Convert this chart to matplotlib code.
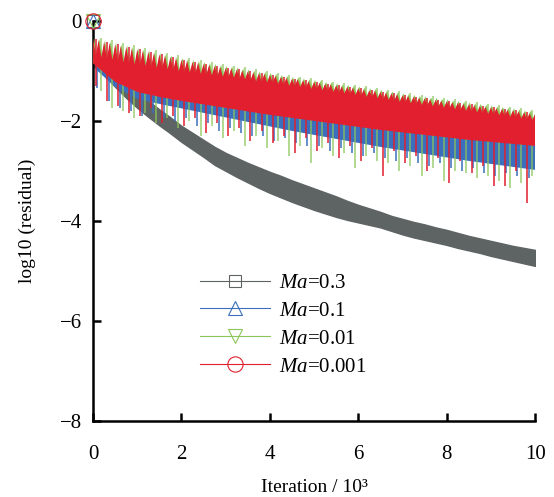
import numpy as np
import matplotlib
matplotlib.use("Agg")
import matplotlib.pyplot as plt

plt.rcParams['font.family'] = ['Liberation Serif', 'DejaVu Serif']
plt.rcParams['mathtext.fontset'] = 'custom'
plt.rcParams['mathtext.rm'] = 'Liberation Serif'
plt.rcParams['mathtext.it'] = 'Liberation Serif:italic'

# iteration axis (x 10^3)
teeth_x = np.arange(0, 10.001, 0.125)    # one oscillation every 125 iterations
iters = np.arange(0, 10.001, 0.25)       # band edges / spikes
iters_half = np.arange(0, 10.001, 0.5)   # lower edge of the solid core

labels = [r"$\mathit{Ma}$=0.3", r"$\mathit{Ma}$=0.1", r"$\mathit{Ma}$=0.01", r"$\mathit{Ma}$=0.001"]
start_val = [0.0, 0.0, 0.0, 0.0]

# Ma=0.3 (band top / bottom)
gray_hi = [-0.62, -0.86, -1.06, -1.25, -1.42, -1.60, -1.77, -1.93, -2.10, -2.24, -2.38,
           -2.52, -2.64, -2.74, -2.84, -2.93, -3.02, -3.10, -3.19, -3.27, -3.35, -3.43,
           -3.51, -3.60, -3.68, -3.75, -3.82, -3.90, -3.96, -4.02, -4.07, -4.13, -4.18,
           -4.24, -4.30, -4.35, -4.40, -4.45, -4.50, -4.54, -4.58]
gray_lo = [-0.78, -1.08, -1.32, -1.54, -1.74, -1.92, -2.09, -2.25, -2.42, -2.57, -2.72,
           -2.88, -3.00, -3.12, -3.23, -3.34, -3.44, -3.53, -3.62, -3.70, -3.78, -3.85,
           -3.92, -3.98, -4.03, -4.08, -4.13, -4.20, -4.27, -4.33, -4.38, -4.43, -4.48,
           -4.54, -4.59, -4.64, -4.70, -4.75, -4.80, -4.85, -4.90]

# Ma=0.1
blue_top = [-0.72, -0.78, -0.80, -0.83, -0.86, -0.90, -0.93, -0.97, -1.01, -1.04, -1.07,
            -1.10, -1.13, -1.16, -1.19, -1.22, -1.25, -1.28, -1.31, -1.34, -1.37, -1.40,
            -1.43, -1.46, -1.49, -1.52, -1.55, -1.58, -1.61, -1.64, -1.67, -1.70, -1.73,
            -1.76, -1.79, -1.82, -1.85, -1.88, -1.91, -1.94, -1.97]
blue_floor = [-0.92, -1.32, -1.56, -1.66, -1.75, -1.84, -1.93, -2.02, -2.11, -2.20, -2.28,
              -2.36, -2.44, -2.52, -2.59, -2.66, -2.73, -2.80, -2.86, -2.92, -2.98]
blue_dip = [-1.35, -1.60, -1.75, -1.80, -1.90, -1.85, -1.95, -2.00, -1.95, -2.10, -2.05,
            -2.20, -2.15, -2.25, -2.30, -2.30, -2.40, -2.35, -2.45, -2.50, -2.50, -2.60,
            -2.55, -2.65, -2.70, -2.65, -2.75, -2.80, -2.75, -2.85, -2.90, -2.85, -2.95,
            -3.00, -2.95, -3.05, -3.10, -3.05, -3.10, -3.15, -3.15]

# Ma=0.01
green_peak = [-0.34, -0.36, -0.39, -0.41, -0.44, -0.47, -0.49, -0.52, -0.54, -0.57,
              -0.59, -0.62, -0.64, -0.67, -0.69, -0.72, -0.74, -0.76, -0.78, -0.80,
              -0.82, -0.84, -0.86, -0.88, -0.90, -0.91, -0.93, -0.95, -0.97, -0.99,
              -1.01, -1.02, -1.04, -1.06, -1.08, -1.10, -1.12, -1.13, -1.15, -1.17,
              -1.18, -1.20, -1.22, -1.23, -1.25, -1.27, -1.28, -1.30, -1.31, -1.33,
              -1.35, -1.36, -1.38, -1.40, -1.41, -1.43, -1.45, -1.46, -1.48, -1.50,
              -1.51, -1.53, -1.54, -1.56, -1.57, -1.59, -1.60, -1.62, -1.63, -1.65,
              -1.66, -1.68, -1.69, -1.71, -1.72, -1.74, -1.75, -1.77, -1.79, -1.80,
              -1.82]
green_notch = [-0.66, -0.69, -0.72, -0.74, -0.77, -0.79, -0.81, -0.83, -0.84, -0.86,
               -0.88, -0.90, -0.91, -0.93, -0.95, -0.97, -0.98, -0.99, -1.01, -1.02,
               -1.04, -1.05, -1.07, -1.08, -1.09, -1.10, -1.12, -1.13, -1.15, -1.17,
               -1.18, -1.19, -1.20, -1.22, -1.24, -1.26, -1.27, -1.28, -1.30, -1.32,
               -1.33, -1.35, -1.36, -1.38, -1.40, -1.41, -1.43, -1.44, -1.46, -1.48,
               -1.49, -1.51, -1.53, -1.54, -1.56, -1.58, -1.59, -1.61, -1.62, -1.64,
               -1.65, -1.67, -1.68, -1.70, -1.71, -1.73, -1.74, -1.76, -1.77, -1.79,
               -1.80, -1.82, -1.83, -1.85, -1.86, -1.88, -1.89, -1.91, -1.93, -1.94]
green_floor = [-0.84, -1.20, -1.40, -1.50, -1.58, -1.65, -1.72, -1.79, -1.86, -1.92, -1.98,
               -2.04, -2.10, -2.16, -2.21, -2.26, -2.31, -2.36, -2.40, -2.44, -2.48]
green_dip = [-1.40, -1.75, -1.80, -1.95, -1.85, -2.05, -1.95, -2.15, -2.00, -2.30, -2.10,
             -2.35, -2.20, -2.50, -2.30, -2.55, -2.40, -2.70, -2.50, -2.85, -2.55, -2.70,
             -2.65, -2.95, -2.70, -2.80, -2.85, -3.00, -2.90, -3.10, -2.95, -3.20, -3.00,
             -3.05, -3.15, -3.10, -3.20, -3.35, -3.25, -3.10, -3.30]

# Ma=0.001
red_peak = [-0.36, -0.38, -0.42, -0.44, -0.47, -0.50, -0.52, -0.55, -0.57, -0.60,
            -0.62, -0.65, -0.67, -0.70, -0.72, -0.75, -0.78, -0.80, -0.82, -0.84,
            -0.86, -0.88, -0.90, -0.92, -0.94, -0.95, -0.97, -0.99, -1.01, -1.03,
            -1.05, -1.06, -1.08, -1.10, -1.12, -1.14, -1.16, -1.17, -1.19, -1.21,
            -1.22, -1.24, -1.26, -1.27, -1.29, -1.31, -1.32, -1.34, -1.35, -1.37,
            -1.39, -1.40, -1.42, -1.44, -1.45, -1.47, -1.49, -1.50, -1.52, -1.54,
            -1.55, -1.57, -1.58, -1.60, -1.61, -1.63, -1.64, -1.66, -1.67, -1.69,
            -1.70, -1.72, -1.73, -1.75, -1.76, -1.78, -1.79, -1.81, -1.83, -1.85,
            -1.86]
red_notch = [-0.70, -0.73, -0.76, -0.78, -0.81, -0.83, -0.85, -0.87, -0.88, -0.90,
             -0.92, -0.94, -0.95, -0.97, -0.99, -1.01, -1.02, -1.03, -1.05, -1.06,
             -1.08, -1.09, -1.11, -1.12, -1.13, -1.14, -1.16, -1.17, -1.19, -1.21,
             -1.22, -1.23, -1.24, -1.26, -1.28, -1.30, -1.31, -1.32, -1.34, -1.36,
             -1.37, -1.39, -1.40, -1.42, -1.44, -1.45, -1.47, -1.48, -1.50, -1.52,
             -1.53, -1.55, -1.57, -1.58, -1.60, -1.62, -1.63, -1.65, -1.66, -1.68,
             -1.69, -1.71, -1.72, -1.74, -1.75, -1.77, -1.78, -1.80, -1.81, -1.83,
             -1.84, -1.86, -1.87, -1.89, -1.90, -1.92, -1.93, -1.95, -1.97, -1.98]
red_floor = [-0.85, -1.22, -1.42, -1.52, -1.60, -1.67, -1.74, -1.81, -1.88, -1.94, -2.00,
             -2.06, -2.12, -2.18, -2.23, -2.28, -2.33, -2.38, -2.42, -2.46, -2.50]
red_dip = [-1.30, -1.60, -1.70, -1.85, -1.90, -1.75, -2.05, -1.90, -2.10, -1.95, -2.25,
           -2.05, -2.30, -2.15, -2.40, -2.20, -2.45, -2.30, -2.65, -2.35, -2.60, -2.45,
           -2.75, -2.50, -2.80, -2.55, -3.10, -2.60, -2.85, -2.70, -3.00, -2.75, -3.25,
           -2.80, -3.05, -2.90, -3.30, -3.30, -3.00, -3.65, -3.55]

c_gray, c_blue, c_green, c_red = "#5e6464", "#3b6fbd", "#8cc65a", "#e11f2e"


def toothed_top(peak, notch):
    xz = np.empty(len(peak) + len(notch))
    yz = np.empty_like(xz)
    xz[0::2] = teeth_x
    xz[1::2] = teeth_x[:-1] + 0.0625
    yz[0::2] = peak
    yz[1::2] = notch
    return xz, yz


fig = plt.figure(figsize=(5.54, 4.97), dpi=100)
ax = fig.add_axes([0.168, 0.153, 0.798, 0.805])

# Ma = 0.3
ax.fill_between(iters, gray_hi, gray_lo, color=c_gray, lw=1.0, edgecolor=c_gray, zorder=1)

# Ma = 0.1
ax.fill(np.concatenate([iters, iters_half[::-1]]), np.concatenate([blue_top, blue_floor[::-1]]),
        color=c_blue, lw=0, zorder=2)
ax.vlines(iters + 0.10, blue_dip, blue_top, color=c_blue, lw=1.3, alpha=0.85, zorder=2)

# Ma = 0.01
ax.vlines(iters + 0.18, green_dip, green_peak[::2], color=c_green, lw=1.1, alpha=0.85, zorder=3)
gx, gy = toothed_top(green_peak, green_notch)
ax.fill(np.concatenate([gx + 0.02, iters_half[::-1]]), np.concatenate([gy, green_floor[::-1]]),
        color=c_green, lw=0, zorder=3)

# Ma = 0.001
ax.vlines(iters + 0.06, red_dip, red_peak[::2], color=c_red, lw=1.3, alpha=0.85, zorder=4)
rx, ry = toothed_top(red_peak, red_notch)
ax.fill(np.concatenate([rx, iters_half[::-1]]), np.concatenate([ry, red_floor[::-1]]),
        color=c_red, lw=0, zorder=4)

# initial points with markers (also used as legend handles)
markers = ['s', '^', 'v', 'o']
colors = [c_gray, c_blue, c_green, c_red]
msizes = [9, 10, 10, 11]
for lab, m, c, ms, y0 in zip(labels, markers, colors, msizes, start_val):
    ax.plot([0], [y0], marker=m, ms=ms, mfc='none', mec=c, mew=0.8, color=c, lw=0.8,
            label=lab, clip_on=False, zorder=6)

ax.set_xlim(0, 10)
ax.set_ylim(-8, 0)
ax.set_xticks([0, 2, 4, 6, 8, 10])
ax.set_yticks([0, -2, -4, -6, -8])
for s in ['top', 'right']:
    ax.spines[s].set_visible(False)
for s in ['left', 'bottom']:
    ax.spines[s].set_linewidth(1.8)
ax.tick_params(direction='in', length=6, width=1.8, labelsize=15)
ax.tick_params(axis='x', pad=17)
ax.tick_params(axis='y', pad=8)

ax.set_xlabel("Iteration / 10³", fontsize=14, labelpad=11)
ax.set_ylabel("log10 (residual)", fontsize=14, labelpad=17)

leg = ax.legend(loc='center left', bbox_to_anchor=(0.222, 0.24), frameon=False, fontsize=15,
                handlelength=3.4, handletextpad=0.4, labelspacing=0.4, borderaxespad=0)

fig.savefig("out.png", dpi=100)
